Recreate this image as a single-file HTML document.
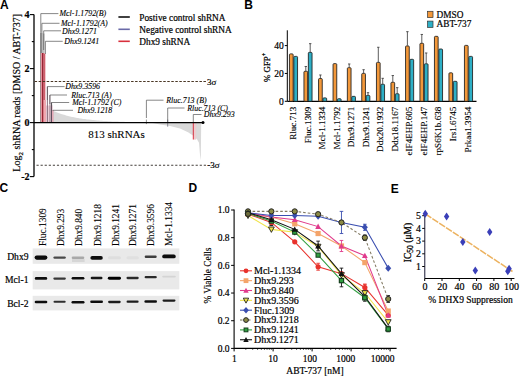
<!DOCTYPE html>
<html><head><meta charset="utf-8"><style>
html,body{margin:0;padding:0;background:#fff;}
svg{display:block;}
</style></head><body>
<svg width="520" height="376" viewBox="0 0 520 376">
<defs><filter id="bl" x="-30%" y="-150%" width="160%" height="400%"><feGaussianBlur stdDeviation="0.5 0.45"/></filter></defs>
<rect width="520" height="376" fill="#fff"/>
<text x="0.00" y="8.60" font-size="12" font-family='"Liberation Sans", sans-serif' font-weight="bold" font-style="normal" text-anchor="start" fill="#000">A</text>
<text x="244.20" y="8.60" font-size="12" font-family='"Liberation Sans", sans-serif' font-weight="bold" font-style="normal" text-anchor="start" fill="#000">B</text>
<text x="-0.60" y="192.30" font-size="12" font-family='"Liberation Sans", sans-serif' font-weight="bold" font-style="normal" text-anchor="start" fill="#000">C</text>
<text x="188.60" y="192.30" font-size="12" font-family='"Liberation Sans", sans-serif' font-weight="bold" font-style="normal" text-anchor="start" fill="#000">D</text>
<text x="390.80" y="192.60" font-size="12" font-family='"Liberation Sans", sans-serif' font-weight="bold" font-style="normal" text-anchor="start" fill="#000">E</text>
<polygon points="53.0,122.6 53.0,110.7 54.0,111.2 55.0,111.6 56.0,112.0 57.0,112.4 58.0,112.8 59.0,113.2 60.0,113.5 61.0,113.9 62.0,114.2 63.0,114.5 64.0,114.8 65.0,115.1 66.0,115.4 67.0,115.7 68.0,115.9 69.0,116.2 70.0,116.4 71.0,116.7 72.0,116.9 73.0,117.1 74.0,117.3 75.0,117.5 76.0,117.7 77.0,117.9 78.0,118.1 79.0,118.2 80.0,118.4 81.0,118.6 82.0,118.7 83.0,118.9 84.0,119.0 85.0,119.1 86.0,119.3 87.0,119.4 88.0,119.5 89.0,119.6 90.0,119.7 91.0,119.8 92.0,119.9 93.0,120.0 94.0,120.1 95.0,120.2 96.0,120.3 97.0,120.4 98.0,120.5 99.0,120.6 100.0,120.7 101.0,120.7 102.0,120.8 103.0,120.9 104.0,120.9 105.0,121.0 106.0,121.1 107.0,121.1 108.0,121.2 109.0,121.2 110.0,121.3 111.0,121.3 112.0,121.4 113.0,121.4 114.0,121.5 115.0,121.5 116.0,121.5 117.0,121.6 118.0,121.6 119.0,121.7 120.0,121.7 121.0,121.7 122.0,121.8 123.0,121.8 124.0,121.8 125.0,121.9 126.0,121.9 127.0,121.9 128.0,121.9 129.0,122.0 130.0,122.0 131.0,122.0 132.0,122.0 133.0,122.1 134.0,122.1 135.0,122.1 136.0,122.1 137.0,122.1 138.0,122.1 139.0,122.2 140.0,122.2 141.0,122.2 142.0,122.2 143.0,122.2 144.0,122.2 145.0,122.3 146.0,122.3 147.0,122.3 148.0,122.3 149.0,122.3 150.0,122.3 150.0,122.6 160.0,124.5 170.0,126.1 180.0,128.5 188.0,132.3 193.0,135.6 197.0,139.3 199.0,142.8 200.0,155.0 200.8,160.4 201.2,122.6" fill="#d9d9d9"/>
<rect x="40.00" y="32.80" width="2.60" height="89.80" fill="#8c8c8c"/>
<rect x="42.60" y="33.50" width="2.00" height="89.10" fill="#bdbdbd"/>
<rect x="40.80" y="53.00" width="4.60" height="69.60" fill="#eea3ab"/>
<rect x="41.90" y="53.00" width="1.60" height="69.60" fill="#9a2434"/>
<rect x="44.30" y="54.00" width="0.80" height="68.60" fill="#c04050"/>
<rect x="45.60" y="105.50" width="7.30" height="17.10" fill="#ead0d8"/>
<rect x="43.60" y="100.00" width="2.40" height="22.60" fill="#f0a8b0"/>
<line x1="47.40" y1="86.60" x2="47.40" y2="122.60" stroke="#806070" stroke-width="0.9"/>
<line x1="49.90" y1="95.00" x2="49.90" y2="122.60" stroke="#907080" stroke-width="0.8"/>
<line x1="51.40" y1="102.50" x2="51.40" y2="122.60" stroke="#504050" stroke-width="1.0"/>
<line x1="52.90" y1="110.30" x2="52.90" y2="122.60" stroke="#e090a0" stroke-width="1.0"/>
<line x1="146.40" y1="119.60" x2="146.40" y2="124.10" stroke="#666" stroke-width="0.7"/>
<line x1="167.70" y1="119.60" x2="167.70" y2="126.65" stroke="#707080" stroke-width="0.8"/>
<rect x="193.60" y="122.60" width="2.60" height="17.00" fill="#eccdd0"/>
<line x1="193.30" y1="122.60" x2="193.30" y2="139.50" stroke="#d83040" stroke-width="1.0"/>
<line x1="34.00" y1="14.60" x2="34.00" y2="176.60" stroke="#000" stroke-width="1.3"/>
<line x1="29.80" y1="14.60" x2="34.00" y2="14.60" stroke="#000" stroke-width="1.1"/>
<line x1="31.80" y1="41.60" x2="34.00" y2="41.60" stroke="#000" stroke-width="1.1"/>
<line x1="29.80" y1="68.60" x2="34.00" y2="68.60" stroke="#000" stroke-width="1.1"/>
<line x1="31.80" y1="95.60" x2="34.00" y2="95.60" stroke="#000" stroke-width="1.1"/>
<line x1="29.80" y1="122.60" x2="34.00" y2="122.60" stroke="#000" stroke-width="1.1"/>
<line x1="31.80" y1="149.60" x2="34.00" y2="149.60" stroke="#000" stroke-width="1.1"/>
<line x1="29.80" y1="176.60" x2="34.00" y2="176.60" stroke="#000" stroke-width="1.1"/>
<text x="29.50" y="18.10" font-size="10" font-family='"Liberation Serif", serif' font-weight="bold" font-style="normal" text-anchor="end" fill="#000" stroke="#000" stroke-width="0.2">4</text>
<text x="29.50" y="72.10" font-size="10" font-family='"Liberation Serif", serif' font-weight="bold" font-style="normal" text-anchor="end" fill="#000" stroke="#000" stroke-width="0.2">2</text>
<text x="29.50" y="126.10" font-size="10" font-family='"Liberation Serif", serif' font-weight="bold" font-style="normal" text-anchor="end" fill="#000" stroke="#000" stroke-width="0.2">0</text>
<text x="29.50" y="180.10" font-size="10" font-family='"Liberation Serif", serif' font-weight="bold" font-style="normal" text-anchor="end" fill="#000" stroke="#000" stroke-width="0.2">-2</text>
<line x1="34.00" y1="122.60" x2="203.00" y2="122.60" stroke="#000" stroke-width="1.3"/>
<circle cx="203" cy="122.6" r="1.5" fill="#000"/>
<line x1="34.60" y1="81.40" x2="206.50" y2="81.40" stroke="#4a3624" stroke-width="1.05" stroke-dasharray="2.5 1.52"/>
<line x1="36.50" y1="165.20" x2="207.50" y2="165.20" stroke="#45403c" stroke-width="1.05" stroke-dasharray="2.2 1.88"/>
<text x="207.00" y="84.50" font-size="9" font-family='"Liberation Serif", serif' font-weight="normal" font-style="normal" text-anchor="start" fill="#000" stroke="#000" stroke-width="0.2">3σ</text>
<text x="207.20" y="168.30" font-size="9" font-family='"Liberation Serif", serif' font-weight="normal" font-style="normal" text-anchor="start" fill="#000" stroke="#000" stroke-width="0.2">-3σ</text>
<text transform="translate(20.3 92.8) rotate(-90)" font-size="10" font-family='"Liberation Serif", serif' text-anchor="middle" fill="#000" stroke="#000" stroke-width="0.18">Log<tspan font-size="7" dy="2.3">2</tspan><tspan dy="-2.3"> shRNA reads [DMSO / ABT-737]</tspan></text>
<text x="88.30" y="138.20" font-size="11" font-family='"Liberation Serif", serif' font-weight="normal" font-style="normal" text-anchor="start" fill="#000" stroke="#000" stroke-width="0.1">813 shRNAs</text>
<line x1="40.80" y1="32.80" x2="40.80" y2="13.60" stroke="#555" stroke-width="0.7"/>
<line x1="40.80" y1="13.60" x2="58.40" y2="13.60" stroke="#555" stroke-width="0.7"/>
<text x="59.50" y="16.40" font-size="7.9" font-family='"Liberation Serif", serif' font-weight="normal" font-style="italic" text-anchor="start" fill="#000" stroke="#000" stroke-width="0.12">Mcl-1.1792(B)</text>
<line x1="41.90" y1="32.80" x2="41.90" y2="23.30" stroke="#555" stroke-width="0.7"/>
<line x1="41.90" y1="23.30" x2="59.50" y2="23.30" stroke="#555" stroke-width="0.7"/>
<text x="61.00" y="26.10" font-size="7.9" font-family='"Liberation Serif", serif' font-weight="normal" font-style="italic" text-anchor="start" fill="#000" stroke="#000" stroke-width="0.12">Mcl-1.1792(A)</text>
<line x1="43.70" y1="50.00" x2="43.70" y2="30.80" stroke="#555" stroke-width="0.7"/>
<line x1="43.70" y1="30.80" x2="61.00" y2="30.80" stroke="#555" stroke-width="0.7"/>
<text x="62.00" y="33.60" font-size="7.9" font-family='"Liberation Serif", serif' font-weight="normal" font-style="italic" text-anchor="start" fill="#000" stroke="#000" stroke-width="0.12">Dhx9.1271</text>
<line x1="45.40" y1="54.00" x2="45.40" y2="41.30" stroke="#555" stroke-width="0.7"/>
<line x1="45.40" y1="41.30" x2="62.70" y2="41.30" stroke="#555" stroke-width="0.7"/>
<text x="64.30" y="44.10" font-size="7.9" font-family='"Liberation Serif", serif' font-weight="normal" font-style="italic" text-anchor="start" fill="#000" stroke="#000" stroke-width="0.12">Dhx9.1241</text>
<line x1="47.40" y1="100.00" x2="47.40" y2="86.60" stroke="#555" stroke-width="0.7"/>
<line x1="47.40" y1="86.60" x2="64.60" y2="86.60" stroke="#555" stroke-width="0.7"/>
<text x="65.20" y="89.40" font-size="7.9" font-family='"Liberation Serif", serif' font-weight="normal" font-style="italic" text-anchor="start" fill="#000" stroke="#000" stroke-width="0.12">Dhx9.3596</text>
<line x1="49.90" y1="104.00" x2="49.90" y2="95.00" stroke="#555" stroke-width="0.7"/>
<line x1="49.90" y1="95.00" x2="67.00" y2="95.00" stroke="#555" stroke-width="0.7"/>
<text x="71.20" y="97.80" font-size="7.9" font-family='"Liberation Serif", serif' font-weight="normal" font-style="italic" text-anchor="start" fill="#000" stroke="#000" stroke-width="0.12">Rluc.713 (A)</text>
<line x1="51.60" y1="106.00" x2="51.60" y2="102.50" stroke="#555" stroke-width="0.7"/>
<line x1="51.60" y1="102.50" x2="69.20" y2="102.50" stroke="#555" stroke-width="0.7"/>
<text x="72.30" y="105.30" font-size="7.9" font-family='"Liberation Serif", serif' font-weight="normal" font-style="italic" text-anchor="start" fill="#000" stroke="#000" stroke-width="0.12">Mcl-1.1792 (C)</text>
<line x1="52.90" y1="111.00" x2="52.90" y2="110.30" stroke="#555" stroke-width="0.7"/>
<line x1="52.90" y1="110.30" x2="73.00" y2="110.30" stroke="#555" stroke-width="0.7"/>
<text x="77.40" y="113.10" font-size="7.9" font-family='"Liberation Serif", serif' font-weight="normal" font-style="italic" text-anchor="start" fill="#000" stroke="#000" stroke-width="0.12">Dhx9.1218</text>
<line x1="146.40" y1="118.00" x2="146.40" y2="100.20" stroke="#555" stroke-width="0.7"/>
<line x1="146.40" y1="100.20" x2="163.50" y2="100.20" stroke="#555" stroke-width="0.7"/>
<text x="166.30" y="103.00" font-size="7.9" font-family='"Liberation Serif", serif' font-weight="normal" font-style="italic" text-anchor="start" fill="#000" stroke="#000" stroke-width="0.12">Rluc.713 (B)</text>
<line x1="167.70" y1="122.00" x2="167.70" y2="108.00" stroke="#555" stroke-width="0.7"/>
<line x1="167.70" y1="108.00" x2="184.50" y2="108.00" stroke="#555" stroke-width="0.7"/>
<text x="187.20" y="110.80" font-size="7.9" font-family='"Liberation Serif", serif' font-weight="normal" font-style="italic" text-anchor="start" fill="#000" stroke="#000" stroke-width="0.12">Rluc.713 (C)</text>
<line x1="193.30" y1="122.00" x2="193.30" y2="114.50" stroke="#555" stroke-width="0.7"/>
<line x1="193.30" y1="114.50" x2="201.50" y2="114.50" stroke="#555" stroke-width="0.7"/>
<text x="203.80" y="117.30" font-size="7.9" font-family='"Liberation Serif", serif' font-weight="normal" font-style="italic" text-anchor="start" fill="#000" stroke="#000" stroke-width="0.12">Dhx9.293</text>
<line x1="118.40" y1="17.00" x2="129.80" y2="17.00" stroke="#111" stroke-width="1.6"/>
<line x1="118.40" y1="29.30" x2="129.80" y2="29.30" stroke="#6a6aa8" stroke-width="1.6"/>
<line x1="118.40" y1="41.30" x2="129.80" y2="41.30" stroke="#d8303c" stroke-width="1.6"/>
<text x="139.30" y="21.20" font-size="9.3" font-family='"Liberation Serif", serif' font-weight="normal" font-style="normal" text-anchor="start" fill="#000" stroke="#000" stroke-width="0.2">Postive control shRNA</text>
<text x="139.30" y="33.40" font-size="9.3" font-family='"Liberation Serif", serif' font-weight="normal" font-style="normal" text-anchor="start" fill="#000" stroke="#000" stroke-width="0.2">Negative control shRNA</text>
<text x="139.30" y="45.40" font-size="9.3" font-family='"Liberation Serif", serif' font-weight="normal" font-style="normal" text-anchor="start" fill="#000" stroke="#000" stroke-width="0.2">Dhx9 shRNA</text>
<line x1="287.30" y1="30.30" x2="287.30" y2="101.30" stroke="#000" stroke-width="1.0"/>
<line x1="287.30" y1="101.30" x2="476.50" y2="101.30" stroke="#000" stroke-width="1.2"/>
<line x1="284.80" y1="101.30" x2="287.30" y2="101.30" stroke="#000" stroke-width="1.0"/>
<text x="283.80" y="104.60" font-size="9.5" font-family='"Liberation Serif", serif' font-weight="normal" font-style="normal" text-anchor="end" fill="#000" stroke="#000" stroke-width="0.2">0</text>
<line x1="284.80" y1="73.45" x2="287.30" y2="73.45" stroke="#000" stroke-width="1.0"/>
<text x="283.80" y="76.75" font-size="9.5" font-family='"Liberation Serif", serif' font-weight="normal" font-style="normal" text-anchor="end" fill="#000" stroke="#000" stroke-width="0.2">20</text>
<line x1="284.80" y1="45.60" x2="287.30" y2="45.60" stroke="#000" stroke-width="1.0"/>
<text x="283.80" y="48.90" font-size="9.5" font-family='"Liberation Serif", serif' font-weight="normal" font-style="normal" text-anchor="end" fill="#000" stroke="#000" stroke-width="0.2">40</text>
<text transform="translate(269.9 67.4) rotate(-90)" font-size="8.9" font-family='"Liberation Serif", serif' text-anchor="middle" fill="#000" stroke="#000" stroke-width="0.25">% GFP<tspan font-size="6.2" dy="-3.6">+</tspan></text>
<rect x="289.45" y="53.89" width="3.70" height="47.41" fill="#f3983a" stroke="#1c1c1c" stroke-width="0.85" rx="0.9"/>
<rect x="293.85" y="56.39" width="3.70" height="44.91" fill="#2eafc6" stroke="#1c1c1c" stroke-width="0.85" rx="0.9"/>
<text transform="translate(296.20 106.7) rotate(-90)" font-size="9.1" font-family='"Liberation Serif", serif' text-anchor="end" fill="#000" stroke="#000" stroke-width="0.12">Rluc.713</text>
<line x1="305.80" y1="66.49" x2="305.80" y2="70.94" stroke="#333" stroke-width="0.8"/>
<line x1="304.60" y1="66.49" x2="307.00" y2="66.49" stroke="#333" stroke-width="0.8"/>
<rect x="303.95" y="71.29" width="3.70" height="30.01" fill="#f3983a" stroke="#1c1c1c" stroke-width="0.85" rx="0.9"/>
<line x1="310.20" y1="43.65" x2="310.20" y2="52.01" stroke="#333" stroke-width="0.8"/>
<line x1="309.00" y1="43.65" x2="311.40" y2="43.65" stroke="#333" stroke-width="0.8"/>
<rect x="308.35" y="52.36" width="3.70" height="48.94" fill="#2eafc6" stroke="#1c1c1c" stroke-width="0.85" rx="0.9"/>
<text transform="translate(310.70 106.7) rotate(-90)" font-size="9.1" font-family='"Liberation Serif", serif' text-anchor="end" fill="#000" stroke="#000" stroke-width="0.12">Fluc.1309</text>
<line x1="320.40" y1="74.98" x2="320.40" y2="78.18" stroke="#333" stroke-width="0.8"/>
<line x1="319.20" y1="74.98" x2="321.60" y2="74.98" stroke="#333" stroke-width="0.8"/>
<rect x="318.55" y="78.53" width="3.70" height="22.77" fill="#f3983a" stroke="#1c1c1c" stroke-width="0.85" rx="0.9"/>
<rect x="322.95" y="97.89" width="3.70" height="3.41" fill="#2eafc6" stroke="#1c1c1c" stroke-width="0.85" rx="0.9"/>
<text transform="translate(325.30 106.7) rotate(-90)" font-size="9.1" font-family='"Liberation Serif", serif' text-anchor="end" fill="#000" stroke="#000" stroke-width="0.12">Mcl-1.1334</text>
<rect x="333.05" y="63.63" width="3.70" height="37.67" fill="#f3983a" stroke="#1c1c1c" stroke-width="0.85" rx="0.9"/>
<rect x="337.45" y="98.73" width="3.70" height="2.57" fill="#2eafc6" stroke="#1c1c1c" stroke-width="0.85" rx="0.9"/>
<text transform="translate(339.80 106.7) rotate(-90)" font-size="9.1" font-family='"Liberation Serif", serif' text-anchor="end" fill="#000" stroke="#000" stroke-width="0.12">Mcl-1.1792</text>
<line x1="349.20" y1="63.98" x2="349.20" y2="67.32" stroke="#333" stroke-width="0.8"/>
<line x1="348.00" y1="63.98" x2="350.40" y2="63.98" stroke="#333" stroke-width="0.8"/>
<rect x="347.35" y="67.67" width="3.70" height="33.63" fill="#f3983a" stroke="#1c1c1c" stroke-width="0.85" rx="0.9"/>
<rect x="351.75" y="96.36" width="3.70" height="4.94" fill="#2eafc6" stroke="#1c1c1c" stroke-width="0.85" rx="0.9"/>
<text transform="translate(354.10 106.7) rotate(-90)" font-size="9.1" font-family='"Liberation Serif", serif' text-anchor="end" fill="#000" stroke="#000" stroke-width="0.12">Dhx9.1271</text>
<line x1="363.60" y1="69.69" x2="363.60" y2="73.03" stroke="#333" stroke-width="0.8"/>
<line x1="362.40" y1="69.69" x2="364.80" y2="69.69" stroke="#333" stroke-width="0.8"/>
<rect x="361.75" y="73.38" width="3.70" height="27.92" fill="#f3983a" stroke="#1c1c1c" stroke-width="0.85" rx="0.9"/>
<line x1="368.00" y1="92.67" x2="368.00" y2="95.03" stroke="#333" stroke-width="0.8"/>
<line x1="366.80" y1="92.67" x2="369.20" y2="92.67" stroke="#333" stroke-width="0.8"/>
<rect x="366.15" y="95.38" width="3.70" height="5.92" fill="#2eafc6" stroke="#1c1c1c" stroke-width="0.85" rx="0.9"/>
<text transform="translate(368.50 106.7) rotate(-90)" font-size="9.1" font-family='"Liberation Serif", serif' text-anchor="end" fill="#000" stroke="#000" stroke-width="0.12">Dhx9.1241</text>
<line x1="378.30" y1="47.27" x2="378.30" y2="62.03" stroke="#333" stroke-width="0.8"/>
<line x1="377.10" y1="47.27" x2="379.50" y2="47.27" stroke="#333" stroke-width="0.8"/>
<rect x="376.45" y="62.38" width="3.70" height="38.92" fill="#f3983a" stroke="#1c1c1c" stroke-width="0.85" rx="0.9"/>
<line x1="382.70" y1="78.32" x2="382.70" y2="83.89" stroke="#333" stroke-width="0.8"/>
<line x1="381.50" y1="78.32" x2="383.90" y2="78.32" stroke="#333" stroke-width="0.8"/>
<rect x="380.85" y="84.24" width="3.70" height="17.06" fill="#2eafc6" stroke="#1c1c1c" stroke-width="0.85" rx="0.9"/>
<text transform="translate(383.20 106.7) rotate(-90)" font-size="9.1" font-family='"Liberation Serif", serif' text-anchor="end" fill="#000" stroke="#000" stroke-width="0.12">Ddx20.1932</text>
<line x1="392.80" y1="75.54" x2="392.80" y2="81.94" stroke="#333" stroke-width="0.8"/>
<line x1="391.60" y1="75.54" x2="394.00" y2="75.54" stroke="#333" stroke-width="0.8"/>
<rect x="390.95" y="82.29" width="3.70" height="19.01" fill="#f3983a" stroke="#1c1c1c" stroke-width="0.85" rx="0.9"/>
<line x1="397.20" y1="87.65" x2="397.20" y2="93.36" stroke="#333" stroke-width="0.8"/>
<line x1="396.00" y1="87.65" x2="398.40" y2="87.65" stroke="#333" stroke-width="0.8"/>
<rect x="395.35" y="93.71" width="3.70" height="7.59" fill="#2eafc6" stroke="#1c1c1c" stroke-width="0.85" rx="0.9"/>
<text transform="translate(397.70 106.7) rotate(-90)" font-size="9.1" font-family='"Liberation Serif", serif' text-anchor="end" fill="#000" stroke="#000" stroke-width="0.12">Ddx18.1167</text>
<line x1="407.40" y1="31.67" x2="407.40" y2="45.60" stroke="#333" stroke-width="0.8"/>
<line x1="406.20" y1="31.67" x2="408.60" y2="31.67" stroke="#333" stroke-width="0.8"/>
<rect x="405.55" y="45.95" width="3.70" height="55.35" fill="#f3983a" stroke="#1c1c1c" stroke-width="0.85" rx="0.9"/>
<rect x="409.95" y="59.32" width="3.70" height="41.98" fill="#2eafc6" stroke="#1c1c1c" stroke-width="0.85" rx="0.9"/>
<text transform="translate(412.30 106.7) rotate(-90)" font-size="9.1" font-family='"Liberation Serif", serif' text-anchor="end" fill="#000" stroke="#000" stroke-width="0.12">eIF4EHP.605</text>
<line x1="421.80" y1="34.46" x2="421.80" y2="42.95" stroke="#333" stroke-width="0.8"/>
<line x1="420.60" y1="34.46" x2="423.00" y2="34.46" stroke="#333" stroke-width="0.8"/>
<rect x="419.95" y="43.30" width="3.70" height="58.00" fill="#f3983a" stroke="#1c1c1c" stroke-width="0.85" rx="0.9"/>
<line x1="426.20" y1="52.98" x2="426.20" y2="63.42" stroke="#333" stroke-width="0.8"/>
<line x1="425.00" y1="52.98" x2="427.40" y2="52.98" stroke="#333" stroke-width="0.8"/>
<rect x="424.35" y="63.77" width="3.70" height="37.53" fill="#2eafc6" stroke="#1c1c1c" stroke-width="0.85" rx="0.9"/>
<text transform="translate(426.70 106.7) rotate(-90)" font-size="9.1" font-family='"Liberation Serif", serif' text-anchor="end" fill="#000" stroke="#000" stroke-width="0.12">eIF4EHP.147</text>
<rect x="434.45" y="36.34" width="3.70" height="64.96" fill="#f3983a" stroke="#1c1c1c" stroke-width="0.85" rx="0.9"/>
<rect x="438.85" y="49.01" width="3.70" height="52.29" fill="#2eafc6" stroke="#1c1c1c" stroke-width="0.85" rx="0.9"/>
<text transform="translate(441.20 106.7) rotate(-90)" font-size="9.1" font-family='"Liberation Serif", serif' text-anchor="end" fill="#000" stroke="#000" stroke-width="0.12">rpS6K1b.638</text>
<rect x="448.95" y="72.83" width="3.70" height="28.47" fill="#f3983a" stroke="#1c1c1c" stroke-width="0.85" rx="0.9"/>
<rect x="453.35" y="81.32" width="3.70" height="19.98" fill="#2eafc6" stroke="#1c1c1c" stroke-width="0.85" rx="0.9"/>
<text transform="translate(455.70 106.7) rotate(-90)" font-size="9.1" font-family='"Liberation Serif", serif' text-anchor="end" fill="#000" stroke="#000" stroke-width="0.12">Irs1.6745</text>
<rect x="464.45" y="45.39" width="3.70" height="55.91" fill="#f3983a" stroke="#1c1c1c" stroke-width="0.85" rx="0.9"/>
<rect x="468.85" y="56.39" width="3.70" height="44.91" fill="#2eafc6" stroke="#1c1c1c" stroke-width="0.85" rx="0.9"/>
<text transform="translate(471.20 106.7) rotate(-90)" font-size="9.1" font-family='"Liberation Serif", serif' text-anchor="end" fill="#000" stroke="#000" stroke-width="0.12">Prkaa1.3954</text>
<rect x="427.6" y="11.3" width="5.4" height="6.3" fill="#f3983a" stroke="#333" stroke-width="0.7"/>
<rect x="427.6" y="21.1" width="5.4" height="6.3" fill="#2eafc6" stroke="#333" stroke-width="0.7"/>
<text x="436.50" y="17.60" font-size="9.3" font-family='"Liberation Serif", serif' font-weight="normal" font-style="normal" text-anchor="start" fill="#000" stroke="#000" stroke-width="0.2">DMSO</text>
<text x="436.50" y="27.40" font-size="9.3" font-family='"Liberation Serif", serif' font-weight="normal" font-style="normal" text-anchor="start" fill="#000" stroke="#000" stroke-width="0.2">ABT-737</text>
<text transform="translate(45.90 246) rotate(-90)" font-size="9.4" font-family='"Liberation Serif", serif' fill="#000" stroke="#000" stroke-width="0.1">Fluc.1309</text>
<text transform="translate(63.50 246) rotate(-90)" font-size="9.4" font-family='"Liberation Serif", serif' fill="#000" stroke="#000" stroke-width="0.1">Dhx9.293</text>
<text transform="translate(81.50 246) rotate(-90)" font-size="9.4" font-family='"Liberation Serif", serif' fill="#000" stroke="#000" stroke-width="0.1">Dhx9.840</text>
<text transform="translate(100.50 246) rotate(-90)" font-size="9.4" font-family='"Liberation Serif", serif' fill="#000" stroke="#000" stroke-width="0.1">Dhx9.1218</text>
<text transform="translate(118.50 246) rotate(-90)" font-size="9.4" font-family='"Liberation Serif", serif' fill="#000" stroke="#000" stroke-width="0.1">Dhx9.1241</text>
<text transform="translate(136.10 246) rotate(-90)" font-size="9.4" font-family='"Liberation Serif", serif' fill="#000" stroke="#000" stroke-width="0.1">Dhx9.1271</text>
<text transform="translate(153.50 246) rotate(-90)" font-size="9.4" font-family='"Liberation Serif", serif' fill="#000" stroke="#000" stroke-width="0.1">Dhx9.3596</text>
<text transform="translate(171.50 246) rotate(-90)" font-size="9.4" font-family='"Liberation Serif", serif' fill="#000" stroke="#000" stroke-width="0.1">Mcl-1.1334</text>
<rect x="32.70" y="248.40" width="146.60" height="15.40" fill="#e9e9e9"/>
<text x="28.50" y="260.20" font-size="9.6" font-family='"Liberation Serif", serif' font-weight="normal" font-style="normal" text-anchor="end" fill="#000" stroke="#000" stroke-width="0.2">Dhx9</text>
<rect x="32.70" y="271.10" width="146.60" height="18.30" fill="#e9e9e9"/>
<text x="28.50" y="283.30" font-size="9.6" font-family='"Liberation Serif", serif' font-weight="normal" font-style="normal" text-anchor="end" fill="#000" stroke="#000" stroke-width="0.2">Mcl-1</text>
<rect x="32.70" y="295.80" width="146.60" height="14.60" fill="#e9e9e9"/>
<text x="28.50" y="307.00" font-size="9.6" font-family='"Liberation Serif", serif' font-weight="normal" font-style="normal" text-anchor="end" fill="#000" stroke="#000" stroke-width="0.2">Bcl-2</text>
<rect x="34.60" y="255.50" width="12.80" height="4.20" rx="2.10" fill="#080808" filter="url(#bl)"/>
<rect x="34.80" y="277.10" width="12.40" height="2.60" rx="1.30" fill="#0a0a0a" filter="url(#bl)"/>
<rect x="34.70" y="300.75" width="12.60" height="2.50" rx="1.25" fill="#0e0e0e" filter="url(#bl)"/>
<rect x="53.40" y="256.40" width="12.40" height="2.40" rx="1.20" fill="#4a4a4a" filter="url(#bl)"/>
<rect x="53.30" y="277.45" width="12.60" height="2.30" rx="1.15" fill="#383838" filter="url(#bl)"/>
<rect x="53.50" y="300.75" width="12.20" height="2.10" rx="1.05" fill="#2e2e2e" filter="url(#bl)"/>
<rect x="71.70" y="256.50" width="12.60" height="2.60" rx="1.30" fill="#a8a8a8" filter="url(#bl)"/>
<rect x="71.60" y="276.90" width="12.80" height="2.60" rx="1.30" fill="#0e0e0e" filter="url(#bl)"/>
<rect x="71.50" y="300.95" width="13.00" height="2.50" rx="1.25" fill="#0e0e0e" filter="url(#bl)"/>
<rect x="90.40" y="256.10" width="12.40" height="3.60" rx="1.80" fill="#0e0e0e" filter="url(#bl)"/>
<rect x="90.70" y="276.85" width="11.80" height="2.50" rx="1.25" fill="#161616" filter="url(#bl)"/>
<rect x="90.20" y="300.55" width="12.80" height="2.50" rx="1.25" fill="#101010" filter="url(#bl)"/>
<rect x="107.90" y="256.30" width="13.00" height="3.00" rx="1.50" fill="#dedede" filter="url(#bl)"/>
<rect x="107.80" y="276.85" width="13.20" height="2.90" rx="1.45" fill="#050505" filter="url(#bl)"/>
<rect x="108.10" y="300.85" width="12.60" height="2.30" rx="1.15" fill="#1a1a1a" filter="url(#bl)"/>
<rect x="126.45" y="256.30" width="12.30" height="3.00" rx="1.50" fill="#e0e0e0" filter="url(#bl)"/>
<rect x="126.45" y="276.85" width="12.30" height="2.30" rx="1.15" fill="#2c2c2c" filter="url(#bl)"/>
<rect x="126.55" y="300.55" width="12.10" height="2.30" rx="1.15" fill="#1e1e1e" filter="url(#bl)"/>
<rect x="144.70" y="255.60" width="12.00" height="2.40" rx="1.20" fill="#3c3c3c" filter="url(#bl)"/>
<rect x="144.60" y="276.05" width="12.20" height="2.30" rx="1.15" fill="#2a2a2a" filter="url(#bl)"/>
<rect x="144.40" y="300.20" width="12.60" height="2.60" rx="1.30" fill="#0c0c0c" filter="url(#bl)"/>
<rect x="162.25" y="254.50" width="13.50" height="3.80" rx="1.90" fill="#0a0a0a" filter="url(#bl)"/>
<rect x="162.25" y="275.70" width="13.50" height="1.80" rx="0.90" fill="#d4d4d4" filter="url(#bl)"/>
<rect x="162.50" y="299.45" width="13.00" height="2.30" rx="1.15" fill="#1e1e1e" filter="url(#bl)"/>
<rect x="72" y="259" width="12.6" height="3" fill="#d6d6d6" filter="url(#bl)"/>
<line x1="234.10" y1="209.50" x2="234.10" y2="348.40" stroke="#000" stroke-width="1.1"/>
<line x1="234.10" y1="348.40" x2="396.60" y2="348.40" stroke="#000" stroke-width="1.2"/>
<line x1="231.10" y1="348.40" x2="234.10" y2="348.40" stroke="#000" stroke-width="1.0"/>
<text x="229.50" y="351.60" font-size="9.5" font-family='"Liberation Serif", serif' font-weight="normal" font-style="normal" text-anchor="end" fill="#000" stroke="#000" stroke-width="0.2">0.0</text>
<line x1="231.10" y1="320.72" x2="234.10" y2="320.72" stroke="#000" stroke-width="1.0"/>
<text x="229.50" y="323.92" font-size="9.5" font-family='"Liberation Serif", serif' font-weight="normal" font-style="normal" text-anchor="end" fill="#000" stroke="#000" stroke-width="0.2">0.2</text>
<line x1="231.10" y1="293.04" x2="234.10" y2="293.04" stroke="#000" stroke-width="1.0"/>
<text x="229.50" y="296.24" font-size="9.5" font-family='"Liberation Serif", serif' font-weight="normal" font-style="normal" text-anchor="end" fill="#000" stroke="#000" stroke-width="0.2">0.4</text>
<line x1="231.10" y1="265.36" x2="234.10" y2="265.36" stroke="#000" stroke-width="1.0"/>
<text x="229.50" y="268.56" font-size="9.5" font-family='"Liberation Serif", serif' font-weight="normal" font-style="normal" text-anchor="end" fill="#000" stroke="#000" stroke-width="0.2">0.6</text>
<line x1="231.10" y1="237.68" x2="234.10" y2="237.68" stroke="#000" stroke-width="1.0"/>
<text x="229.50" y="240.88" font-size="9.5" font-family='"Liberation Serif", serif' font-weight="normal" font-style="normal" text-anchor="end" fill="#000" stroke="#000" stroke-width="0.2">0.8</text>
<line x1="231.10" y1="210.00" x2="234.10" y2="210.00" stroke="#000" stroke-width="1.0"/>
<text x="229.50" y="213.20" font-size="9.5" font-family='"Liberation Serif", serif' font-weight="normal" font-style="normal" text-anchor="end" fill="#000" stroke="#000" stroke-width="0.2">1.0</text>
<line x1="245.84" y1="348.40" x2="245.84" y2="350.00" stroke="#000" stroke-width="0.6"/>
<line x1="252.71" y1="348.40" x2="252.71" y2="350.00" stroke="#000" stroke-width="0.6"/>
<line x1="257.58" y1="348.40" x2="257.58" y2="350.00" stroke="#000" stroke-width="0.6"/>
<line x1="261.36" y1="348.40" x2="261.36" y2="350.00" stroke="#000" stroke-width="0.6"/>
<line x1="264.45" y1="348.40" x2="264.45" y2="350.00" stroke="#000" stroke-width="0.6"/>
<line x1="267.06" y1="348.40" x2="267.06" y2="350.00" stroke="#000" stroke-width="0.6"/>
<line x1="269.32" y1="348.40" x2="269.32" y2="350.00" stroke="#000" stroke-width="0.6"/>
<line x1="271.32" y1="348.40" x2="271.32" y2="350.00" stroke="#000" stroke-width="0.6"/>
<line x1="284.84" y1="348.40" x2="284.84" y2="350.00" stroke="#000" stroke-width="0.6"/>
<line x1="291.71" y1="348.40" x2="291.71" y2="350.00" stroke="#000" stroke-width="0.6"/>
<line x1="296.58" y1="348.40" x2="296.58" y2="350.00" stroke="#000" stroke-width="0.6"/>
<line x1="300.36" y1="348.40" x2="300.36" y2="350.00" stroke="#000" stroke-width="0.6"/>
<line x1="303.45" y1="348.40" x2="303.45" y2="350.00" stroke="#000" stroke-width="0.6"/>
<line x1="306.06" y1="348.40" x2="306.06" y2="350.00" stroke="#000" stroke-width="0.6"/>
<line x1="308.32" y1="348.40" x2="308.32" y2="350.00" stroke="#000" stroke-width="0.6"/>
<line x1="310.32" y1="348.40" x2="310.32" y2="350.00" stroke="#000" stroke-width="0.6"/>
<line x1="323.84" y1="348.40" x2="323.84" y2="350.00" stroke="#000" stroke-width="0.6"/>
<line x1="330.71" y1="348.40" x2="330.71" y2="350.00" stroke="#000" stroke-width="0.6"/>
<line x1="335.58" y1="348.40" x2="335.58" y2="350.00" stroke="#000" stroke-width="0.6"/>
<line x1="339.36" y1="348.40" x2="339.36" y2="350.00" stroke="#000" stroke-width="0.6"/>
<line x1="342.45" y1="348.40" x2="342.45" y2="350.00" stroke="#000" stroke-width="0.6"/>
<line x1="345.06" y1="348.40" x2="345.06" y2="350.00" stroke="#000" stroke-width="0.6"/>
<line x1="347.32" y1="348.40" x2="347.32" y2="350.00" stroke="#000" stroke-width="0.6"/>
<line x1="349.32" y1="348.40" x2="349.32" y2="350.00" stroke="#000" stroke-width="0.6"/>
<line x1="362.84" y1="348.40" x2="362.84" y2="350.00" stroke="#000" stroke-width="0.6"/>
<line x1="369.71" y1="348.40" x2="369.71" y2="350.00" stroke="#000" stroke-width="0.6"/>
<line x1="374.58" y1="348.40" x2="374.58" y2="350.00" stroke="#000" stroke-width="0.6"/>
<line x1="378.36" y1="348.40" x2="378.36" y2="350.00" stroke="#000" stroke-width="0.6"/>
<line x1="381.45" y1="348.40" x2="381.45" y2="350.00" stroke="#000" stroke-width="0.6"/>
<line x1="384.06" y1="348.40" x2="384.06" y2="350.00" stroke="#000" stroke-width="0.6"/>
<line x1="386.32" y1="348.40" x2="386.32" y2="350.00" stroke="#000" stroke-width="0.6"/>
<line x1="388.32" y1="348.40" x2="388.32" y2="350.00" stroke="#000" stroke-width="0.6"/>
<line x1="234.10" y1="348.40" x2="234.10" y2="351.40" stroke="#000" stroke-width="1.0"/>
<line x1="273.10" y1="348.40" x2="273.10" y2="351.40" stroke="#000" stroke-width="1.0"/>
<line x1="312.10" y1="348.40" x2="312.10" y2="351.40" stroke="#000" stroke-width="1.0"/>
<line x1="351.10" y1="348.40" x2="351.10" y2="351.40" stroke="#000" stroke-width="1.0"/>
<line x1="390.10" y1="348.40" x2="390.10" y2="351.40" stroke="#000" stroke-width="1.0"/>
<text x="234.30" y="362.30" font-size="9.5" font-family='"Liberation Serif", serif' font-weight="normal" font-style="normal" text-anchor="middle" fill="#000" stroke="#000" stroke-width="0.2">1</text>
<text x="272.90" y="362.30" font-size="9.5" font-family='"Liberation Serif", serif' font-weight="normal" font-style="normal" text-anchor="middle" fill="#000" stroke="#000" stroke-width="0.2">10</text>
<text x="309.80" y="362.30" font-size="9.5" font-family='"Liberation Serif", serif' font-weight="normal" font-style="normal" text-anchor="middle" fill="#000" stroke="#000" stroke-width="0.2">100</text>
<text x="345.80" y="362.30" font-size="9.5" font-family='"Liberation Serif", serif' font-weight="normal" font-style="normal" text-anchor="middle" fill="#000" stroke="#000" stroke-width="0.2">1000</text>
<text x="382.50" y="362.30" font-size="9.5" font-family='"Liberation Serif", serif' font-weight="normal" font-style="normal" text-anchor="middle" fill="#000" stroke="#000" stroke-width="0.2">10000</text>
<text x="315.00" y="373.50" font-size="9.5" font-family='"Liberation Serif", serif' font-weight="normal" font-style="normal" text-anchor="middle" fill="#000" stroke="#000" stroke-width="0.2">ABT-737 [nM]</text>
<text transform="translate(211.2 275.5) rotate(-90)" font-size="9.4" font-family='"Liberation Serif", serif' text-anchor="middle" fill="#000" stroke="#000" stroke-width="0.15">% Viable Cells</text>
<line x1="271.37" y1="214.15" x2="271.37" y2="225.22" stroke="#111" stroke-width="0.9"/>
<line x1="269.57" y1="214.15" x2="273.17" y2="214.15" stroke="#111" stroke-width="0.9"/>
<line x1="269.57" y1="225.22" x2="273.17" y2="225.22" stroke="#111" stroke-width="0.9"/>
<line x1="271.37" y1="216.92" x2="271.37" y2="225.22" stroke="#111" stroke-width="0.9"/>
<line x1="269.57" y1="216.92" x2="273.17" y2="216.92" stroke="#111" stroke-width="0.9"/>
<line x1="269.57" y1="225.22" x2="273.17" y2="225.22" stroke="#111" stroke-width="0.9"/>
<line x1="364.85" y1="224.26" x2="364.85" y2="230.34" stroke="#3a4eb0" stroke-width="0.9"/>
<line x1="363.05" y1="224.26" x2="366.65" y2="224.26" stroke="#3a4eb0" stroke-width="0.9"/>
<line x1="363.05" y1="230.34" x2="366.65" y2="230.34" stroke="#3a4eb0" stroke-width="0.9"/>
<line x1="318.11" y1="263.28" x2="318.11" y2="270.20" stroke="#e8322c" stroke-width="0.9"/>
<line x1="316.31" y1="263.28" x2="319.91" y2="263.28" stroke="#e8322c" stroke-width="0.9"/>
<line x1="316.31" y1="270.20" x2="319.91" y2="270.20" stroke="#e8322c" stroke-width="0.9"/>
<line x1="364.85" y1="284.04" x2="364.85" y2="290.96" stroke="#e8322c" stroke-width="0.9"/>
<line x1="363.05" y1="284.04" x2="366.65" y2="284.04" stroke="#e8322c" stroke-width="0.9"/>
<line x1="363.05" y1="290.96" x2="366.65" y2="290.96" stroke="#e8322c" stroke-width="0.9"/>
<line x1="388.22" y1="295.53" x2="388.22" y2="302.45" stroke="#222" stroke-width="0.9"/>
<line x1="386.42" y1="295.53" x2="390.02" y2="295.53" stroke="#222" stroke-width="0.9"/>
<line x1="386.42" y1="302.45" x2="390.02" y2="302.45" stroke="#222" stroke-width="0.9"/>
<line x1="364.85" y1="235.60" x2="364.85" y2="239.76" stroke="#222" stroke-width="0.9"/>
<line x1="363.05" y1="235.60" x2="366.65" y2="235.60" stroke="#222" stroke-width="0.9"/>
<line x1="363.05" y1="239.76" x2="366.65" y2="239.76" stroke="#222" stroke-width="0.9"/>
<line x1="341.48" y1="211.38" x2="341.48" y2="233.53" stroke="#3a4eb0" stroke-width="0.9"/>
<line x1="339.68" y1="211.38" x2="343.28" y2="211.38" stroke="#3a4eb0" stroke-width="0.9"/>
<line x1="339.68" y1="233.53" x2="343.28" y2="233.53" stroke="#3a4eb0" stroke-width="0.9"/>
<line x1="341.48" y1="240.45" x2="341.48" y2="251.52" stroke="#e03a8c" stroke-width="0.9"/>
<line x1="339.68" y1="240.45" x2="343.28" y2="240.45" stroke="#e03a8c" stroke-width="0.9"/>
<line x1="339.68" y1="251.52" x2="343.28" y2="251.52" stroke="#e03a8c" stroke-width="0.9"/>
<line x1="318.11" y1="241.14" x2="318.11" y2="250.83" stroke="#111" stroke-width="0.9"/>
<line x1="316.31" y1="241.14" x2="319.91" y2="241.14" stroke="#111" stroke-width="0.9"/>
<line x1="316.31" y1="250.83" x2="319.91" y2="250.83" stroke="#111" stroke-width="0.9"/>
<line x1="341.48" y1="268.13" x2="341.48" y2="279.20" stroke="#111" stroke-width="0.9"/>
<line x1="339.68" y1="268.13" x2="343.28" y2="268.13" stroke="#111" stroke-width="0.9"/>
<line x1="339.68" y1="279.20" x2="343.28" y2="279.20" stroke="#111" stroke-width="0.9"/>
<line x1="341.48" y1="274.36" x2="341.48" y2="286.81" stroke="#111" stroke-width="0.9"/>
<line x1="339.68" y1="274.36" x2="343.28" y2="274.36" stroke="#111" stroke-width="0.9"/>
<line x1="339.68" y1="286.81" x2="343.28" y2="286.81" stroke="#111" stroke-width="0.9"/>
<line x1="364.85" y1="284.74" x2="364.85" y2="290.27" stroke="#e8322c" stroke-width="0.9"/>
<line x1="363.05" y1="284.74" x2="366.65" y2="284.74" stroke="#e8322c" stroke-width="0.9"/>
<line x1="363.05" y1="290.27" x2="366.65" y2="290.27" stroke="#e8322c" stroke-width="0.9"/>
<line x1="364.85" y1="294.29" x2="364.85" y2="301.21" stroke="#111" stroke-width="0.9"/>
<line x1="363.05" y1="294.29" x2="366.65" y2="294.29" stroke="#111" stroke-width="0.9"/>
<line x1="363.05" y1="301.21" x2="366.65" y2="301.21" stroke="#111" stroke-width="0.9"/>
<line x1="364.85" y1="234.91" x2="364.85" y2="240.45" stroke="#333" stroke-width="0.9"/>
<line x1="363.05" y1="234.91" x2="366.65" y2="234.91" stroke="#333" stroke-width="0.9"/>
<line x1="363.05" y1="240.45" x2="366.65" y2="240.45" stroke="#333" stroke-width="0.9"/>
<line x1="388.22" y1="326.26" x2="388.22" y2="331.79" stroke="#111" stroke-width="0.9"/>
<line x1="386.42" y1="326.26" x2="390.02" y2="326.26" stroke="#111" stroke-width="0.9"/>
<line x1="386.42" y1="331.79" x2="390.02" y2="331.79" stroke="#111" stroke-width="0.9"/>
<polyline points="248.00,214.15 271.37,222.46 294.74,241.83 318.11,266.74 341.48,273.66 364.85,287.50 388.22,315.18" fill="none" stroke="#e8322c" stroke-width="1.05"/>
<polyline points="248.00,214.15 271.37,216.92 294.74,223.84 318.11,233.53 341.48,245.98 364.85,262.59 388.22,311.03" fill="none" stroke="#f4a46a" stroke-width="1.05"/>
<polyline points="248.00,212.77 271.37,216.92 294.74,219.69 318.11,226.61 341.48,245.98 364.85,255.67 388.22,315.18" fill="none" stroke="#e03a8c" stroke-width="1.05"/>
<polyline points="248.00,215.54 271.37,229.38 294.74,232.14 318.11,246.68 341.48,275.05 364.85,293.04 388.22,322.10" fill="none" stroke="#f0e44a" stroke-width="1.05"/>
<polyline points="248.00,212.77 271.37,215.54 294.74,215.54 318.11,216.23 341.48,222.46 364.85,227.30 388.22,268.13" fill="none" stroke="#3a4eb0" stroke-width="1.05"/>
<polyline points="248.00,211.38 271.37,211.38 294.74,211.38 318.11,214.15 341.48,222.46 364.85,237.68 388.22,298.99" fill="none" stroke="#827a62" stroke-width="1.05" stroke-dasharray="2.6 2"/>
<polyline points="248.00,213.46 271.37,221.07 294.74,232.14 318.11,255.12 341.48,280.58 364.85,297.75 388.22,329.02" fill="none" stroke="#2f9e3f" stroke-width="1.05"/>
<polyline points="248.00,212.77 271.37,219.69 294.74,229.38 318.11,245.98 341.48,273.66 364.85,296.50 388.22,328.33" fill="none" stroke="#111111" stroke-width="1.05"/>
<circle cx="248.00" cy="214.15" r="2.6" fill="#e8322c"/>
<circle cx="271.37" cy="222.46" r="2.6" fill="#e8322c"/>
<circle cx="294.74" cy="241.83" r="2.6" fill="#e8322c"/>
<circle cx="318.11" cy="266.74" r="2.6" fill="#e8322c"/>
<circle cx="341.48" cy="273.66" r="2.6" fill="#e8322c"/>
<circle cx="364.85" cy="287.50" r="2.6" fill="#e8322c"/>
<circle cx="388.22" cy="315.18" r="2.6" fill="#e8322c"/>
<rect x="245.40" y="211.55" width="5.2" height="5.2" fill="#f4a46a"/>
<rect x="268.77" y="214.32" width="5.2" height="5.2" fill="#f4a46a"/>
<rect x="292.14" y="221.24" width="5.2" height="5.2" fill="#f4a46a"/>
<rect x="315.51" y="230.93" width="5.2" height="5.2" fill="#f4a46a"/>
<rect x="338.88" y="243.38" width="5.2" height="5.2" fill="#f4a46a"/>
<rect x="362.25" y="259.99" width="5.2" height="5.2" fill="#f4a46a"/>
<rect x="385.62" y="308.43" width="5.2" height="5.2" fill="#f4a46a"/>
<polygon points="248.00,209.77 250.90,215.17 245.10,215.17" fill="#e03a8c"/>
<polygon points="271.37,213.92 274.27,219.32 268.47,219.32" fill="#e03a8c"/>
<polygon points="294.74,216.69 297.64,222.09 291.84,222.09" fill="#e03a8c"/>
<polygon points="318.11,223.61 321.01,229.01 315.21,229.01" fill="#e03a8c"/>
<polygon points="341.48,242.98 344.38,248.38 338.58,248.38" fill="#e03a8c"/>
<polygon points="364.85,252.67 367.75,258.07 361.95,258.07" fill="#e03a8c"/>
<polygon points="388.22,312.18 391.12,317.58 385.32,317.58" fill="#e03a8c"/>
<polygon points="248.00,218.54 250.90,213.14 245.10,213.14" fill="#f0e44a" stroke="#222" stroke-width="0.9"/>
<polygon points="271.37,232.38 274.27,226.98 268.47,226.98" fill="#f0e44a" stroke="#222" stroke-width="0.9"/>
<polygon points="294.74,235.14 297.64,229.74 291.84,229.74" fill="#f0e44a" stroke="#222" stroke-width="0.9"/>
<polygon points="318.11,249.68 321.01,244.28 315.21,244.28" fill="#f0e44a" stroke="#222" stroke-width="0.9"/>
<polygon points="341.48,278.05 344.38,272.65 338.58,272.65" fill="#f0e44a" stroke="#222" stroke-width="0.9"/>
<polygon points="364.85,296.04 367.75,290.64 361.95,290.64" fill="#f0e44a" stroke="#222" stroke-width="0.9"/>
<polygon points="388.22,325.10 391.12,319.70 385.32,319.70" fill="#f0e44a" stroke="#222" stroke-width="0.9"/>
<polygon points="248.00,209.27 251.00,212.77 248.00,216.27 245.00,212.77" fill="#3a4eb0"/>
<polygon points="271.37,212.04 274.37,215.54 271.37,219.04 268.37,215.54" fill="#3a4eb0"/>
<polygon points="294.74,212.04 297.74,215.54 294.74,219.04 291.74,215.54" fill="#3a4eb0"/>
<polygon points="318.11,212.73 321.11,216.23 318.11,219.73 315.11,216.23" fill="#3a4eb0"/>
<polygon points="341.48,218.96 344.48,222.46 341.48,225.96 338.48,222.46" fill="#3a4eb0"/>
<polygon points="364.85,223.80 367.85,227.30 364.85,230.80 361.85,227.30" fill="#3a4eb0"/>
<polygon points="388.22,264.63 391.22,268.13 388.22,271.63 385.22,268.13" fill="#3a4eb0"/>
<circle cx="248.00" cy="211.38" r="2.6" fill="#8b8a45" stroke="#222" stroke-width="1"/>
<circle cx="271.37" cy="211.38" r="2.6" fill="#8b8a45" stroke="#222" stroke-width="1"/>
<circle cx="294.74" cy="211.38" r="2.6" fill="#8b8a45" stroke="#222" stroke-width="1"/>
<circle cx="318.11" cy="214.15" r="2.6" fill="#8b8a45" stroke="#222" stroke-width="1"/>
<circle cx="341.48" cy="222.46" r="2.6" fill="#8b8a45" stroke="#222" stroke-width="1"/>
<circle cx="364.85" cy="237.68" r="2.6" fill="#8b8a45" stroke="#222" stroke-width="1"/>
<circle cx="388.22" cy="298.99" r="2.6" fill="#8b8a45" stroke="#222" stroke-width="1"/>
<rect x="245.90" y="211.36" width="4.2" height="4.2" fill="#2f9e3f" stroke="#173f1f" stroke-width="1"/>
<rect x="269.27" y="218.97" width="4.2" height="4.2" fill="#2f9e3f" stroke="#173f1f" stroke-width="1"/>
<rect x="292.64" y="230.04" width="4.2" height="4.2" fill="#2f9e3f" stroke="#173f1f" stroke-width="1"/>
<rect x="316.01" y="253.02" width="4.2" height="4.2" fill="#2f9e3f" stroke="#173f1f" stroke-width="1"/>
<rect x="339.38" y="278.48" width="4.2" height="4.2" fill="#2f9e3f" stroke="#173f1f" stroke-width="1"/>
<rect x="362.75" y="295.65" width="4.2" height="4.2" fill="#2f9e3f" stroke="#173f1f" stroke-width="1"/>
<rect x="386.12" y="326.92" width="4.2" height="4.2" fill="#2f9e3f" stroke="#173f1f" stroke-width="1"/>
<polygon points="248.00,209.77 250.90,215.17 245.10,215.17" fill="#111111"/>
<polygon points="271.37,216.69 274.27,222.09 268.47,222.09" fill="#111111"/>
<polygon points="294.74,226.38 297.64,231.78 291.84,231.78" fill="#111111"/>
<polygon points="318.11,242.98 321.01,248.38 315.21,248.38" fill="#111111"/>
<polygon points="341.48,270.66 344.38,276.06 338.58,276.06" fill="#111111"/>
<polygon points="364.85,293.50 367.75,298.90 361.95,298.90" fill="#111111"/>
<polygon points="388.22,325.33 391.12,330.73 385.32,330.73" fill="#111111"/>
<rect x="339.38" y="278.48" width="4.2" height="4.2" fill="#2f9e3f" stroke="#173f1f" stroke-width="1"/>
<rect x="362.75" y="295.65" width="4.2" height="4.2" fill="#2f9e3f" stroke="#173f1f" stroke-width="1"/>
<rect x="386.12" y="326.92" width="4.2" height="4.2" fill="#2f9e3f" stroke="#173f1f" stroke-width="1"/>
<circle cx="248.00" cy="213.88" r="2.6" fill="#6f6e3c" stroke="#222" stroke-width="1"/>
<line x1="240.00" y1="270.80" x2="252.00" y2="270.80" stroke="#e8322c" stroke-width="1.1"/>
<circle cx="246.00" cy="270.80" r="2.4" fill="#e8322c"/>
<text x="254.00" y="274.10" font-size="10" font-family='"Liberation Serif", serif' font-weight="normal" font-style="normal" text-anchor="start" fill="#000" stroke="#000" stroke-width="0.2">Mcl-1.1334</text>
<line x1="240.00" y1="280.65" x2="252.00" y2="280.65" stroke="#f4a46a" stroke-width="1.1"/>
<rect x="243.60" y="278.25" width="4.8" height="4.8" fill="#f4a46a"/>
<text x="254.00" y="283.95" font-size="10" font-family='"Liberation Serif", serif' font-weight="normal" font-style="normal" text-anchor="start" fill="#000" stroke="#000" stroke-width="0.2">Dhx9.293</text>
<line x1="240.00" y1="290.50" x2="252.00" y2="290.50" stroke="#e03a8c" stroke-width="1.1"/>
<polygon points="246.00,287.70 248.70,292.70 243.30,292.70" fill="#e03a8c"/>
<text x="254.00" y="293.80" font-size="10" font-family='"Liberation Serif", serif' font-weight="normal" font-style="normal" text-anchor="start" fill="#000" stroke="#000" stroke-width="0.2">Dhx9.840</text>
<line x1="240.00" y1="300.35" x2="252.00" y2="300.35" stroke="#f0e44a" stroke-width="1.1"/>
<polygon points="246.00,303.15 248.70,298.15 243.30,298.15" fill="#f0e44a" stroke="#222" stroke-width="0.9"/>
<text x="254.00" y="303.65" font-size="10" font-family='"Liberation Serif", serif' font-weight="normal" font-style="normal" text-anchor="start" fill="#000" stroke="#000" stroke-width="0.2">Dhx9.3596</text>
<line x1="240.00" y1="310.20" x2="252.00" y2="310.20" stroke="#3a4eb0" stroke-width="1.1"/>
<polygon points="246.00,306.90 248.80,310.20 246.00,313.50 243.20,310.20" fill="#3a4eb0"/>
<text x="254.00" y="313.50" font-size="10" font-family='"Liberation Serif", serif' font-weight="normal" font-style="normal" text-anchor="start" fill="#000" stroke="#000" stroke-width="0.2">Fluc.1309</text>
<line x1="240.00" y1="320.05" x2="252.00" y2="320.05" stroke="#6e6e52" stroke-width="1.1" stroke-dasharray="2.5 1.5"/>
<circle cx="246.00" cy="320.05" r="2.4" fill="#8b8a45" stroke="#222" stroke-width="1"/>
<text x="254.00" y="323.35" font-size="10" font-family='"Liberation Serif", serif' font-weight="normal" font-style="normal" text-anchor="start" fill="#000" stroke="#000" stroke-width="0.2">Dhx9.1218</text>
<line x1="240.00" y1="329.90" x2="252.00" y2="329.90" stroke="#2f9e3f" stroke-width="1.1"/>
<rect x="244.10" y="328.00" width="3.8" height="3.8" fill="#2f9e3f" stroke="#173f1f" stroke-width="1"/>
<text x="254.00" y="333.20" font-size="10" font-family='"Liberation Serif", serif' font-weight="normal" font-style="normal" text-anchor="start" fill="#000" stroke="#000" stroke-width="0.2">Dhx9.1241</text>
<line x1="240.00" y1="339.75" x2="252.00" y2="339.75" stroke="#111111" stroke-width="1.1"/>
<polygon points="246.00,336.95 248.70,341.95 243.30,341.95" fill="#111111"/>
<text x="254.00" y="343.05" font-size="10" font-family='"Liberation Serif", serif' font-weight="normal" font-style="normal" text-anchor="start" fill="#000" stroke="#000" stroke-width="0.2">Dhx9.1271</text>
<line x1="424.70" y1="211.50" x2="424.70" y2="278.50" stroke="#5a5a6e" stroke-width="1.4"/>
<line x1="424.70" y1="278.50" x2="514.40" y2="278.50" stroke="#000" stroke-width="1.2"/>
<line x1="422.20" y1="266.50" x2="424.70" y2="266.50" stroke="#000" stroke-width="1.0"/>
<text x="421.00" y="269.80" font-size="9.8" font-family='"Liberation Serif", serif' font-weight="normal" font-style="normal" text-anchor="end" fill="#000" stroke="#000" stroke-width="0.2">1</text>
<line x1="422.20" y1="253.80" x2="424.70" y2="253.80" stroke="#000" stroke-width="1.0"/>
<text x="421.00" y="257.10" font-size="9.8" font-family='"Liberation Serif", serif' font-weight="normal" font-style="normal" text-anchor="end" fill="#000" stroke="#000" stroke-width="0.2">2</text>
<line x1="422.20" y1="241.10" x2="424.70" y2="241.10" stroke="#000" stroke-width="1.0"/>
<text x="421.00" y="244.40" font-size="9.8" font-family='"Liberation Serif", serif' font-weight="normal" font-style="normal" text-anchor="end" fill="#000" stroke="#000" stroke-width="0.2">3</text>
<line x1="422.20" y1="228.40" x2="424.70" y2="228.40" stroke="#000" stroke-width="1.0"/>
<text x="421.00" y="231.70" font-size="9.8" font-family='"Liberation Serif", serif' font-weight="normal" font-style="normal" text-anchor="end" fill="#000" stroke="#000" stroke-width="0.2">4</text>
<line x1="422.20" y1="215.70" x2="424.70" y2="215.70" stroke="#000" stroke-width="1.0"/>
<text x="421.00" y="219.00" font-size="9.8" font-family='"Liberation Serif", serif' font-weight="normal" font-style="normal" text-anchor="end" fill="#000" stroke="#000" stroke-width="0.2">5</text>
<line x1="424.70" y1="278.50" x2="424.70" y2="281.00" stroke="#000" stroke-width="1.0"/>
<text x="425.00" y="289.60" font-size="10" font-family='"Liberation Serif", serif' font-weight="normal" font-style="normal" text-anchor="middle" fill="#000" stroke="#000" stroke-width="0.2">0</text>
<line x1="442.00" y1="278.50" x2="442.00" y2="281.00" stroke="#000" stroke-width="1.0"/>
<text x="442.30" y="289.60" font-size="10" font-family='"Liberation Serif", serif' font-weight="normal" font-style="normal" text-anchor="middle" fill="#000" stroke="#000" stroke-width="0.2">20</text>
<line x1="459.30" y1="278.50" x2="459.30" y2="281.00" stroke="#000" stroke-width="1.0"/>
<text x="459.60" y="289.60" font-size="10" font-family='"Liberation Serif", serif' font-weight="normal" font-style="normal" text-anchor="middle" fill="#000" stroke="#000" stroke-width="0.2">40</text>
<line x1="476.60" y1="278.50" x2="476.60" y2="281.00" stroke="#000" stroke-width="1.0"/>
<text x="476.90" y="289.60" font-size="10" font-family='"Liberation Serif", serif' font-weight="normal" font-style="normal" text-anchor="middle" fill="#000" stroke="#000" stroke-width="0.2">60</text>
<line x1="493.90" y1="278.50" x2="493.90" y2="281.00" stroke="#000" stroke-width="1.0"/>
<text x="494.20" y="289.60" font-size="10" font-family='"Liberation Serif", serif' font-weight="normal" font-style="normal" text-anchor="middle" fill="#000" stroke="#000" stroke-width="0.2">80</text>
<line x1="511.20" y1="278.50" x2="511.20" y2="281.00" stroke="#000" stroke-width="1.0"/>
<text x="511.50" y="289.60" font-size="10" font-family='"Liberation Serif", serif' font-weight="normal" font-style="normal" text-anchor="middle" fill="#000" stroke="#000" stroke-width="0.2">100</text>
<text x="470.50" y="303.30" font-size="9.5" font-family='"Liberation Serif", serif' font-weight="normal" font-style="normal" text-anchor="middle" fill="#000" stroke="#000" stroke-width="0.2">% DHX9 Suppression</text>
<text transform="translate(411.4 242.5) rotate(-90)" font-size="9.5" font-family='"Liberation Serif", serif' text-anchor="middle" fill="#000" stroke="#000" stroke-width="0.3">IC<tspan font-size="7.5" dy="2">50</tspan><tspan dy="-2"> (μM)</tspan></text>
<line x1="425.50" y1="214.00" x2="512.50" y2="271.50" stroke="#ecb25f" stroke-width="1.5" stroke-dasharray="7 1.2"/>
<polygon points="425.30,209.80 428.00,213.80 425.30,217.80 422.60,213.80" fill="#3a3fb8"/>
<polygon points="446.60,212.50 449.30,216.50 446.60,220.50 443.90,216.50" fill="#3a3fb8"/>
<polygon points="462.80,238.00 465.50,242.00 462.80,246.00 460.10,242.00" fill="#3a3fb8"/>
<polygon points="475.30,266.50 478.00,270.50 475.30,274.50 472.60,270.50" fill="#3a3fb8"/>
<polygon points="489.70,228.00 492.40,232.00 489.70,236.00 487.00,232.00" fill="#3a3fb8"/>
<polygon points="507.80,267.30 510.50,271.30 507.80,275.30 505.10,271.30" fill="#3a3fb8"/>
<polygon points="509.10,264.70 511.80,268.70 509.10,272.70 506.40,268.70" fill="#3a3fb8"/>
</svg>
</body></html>
